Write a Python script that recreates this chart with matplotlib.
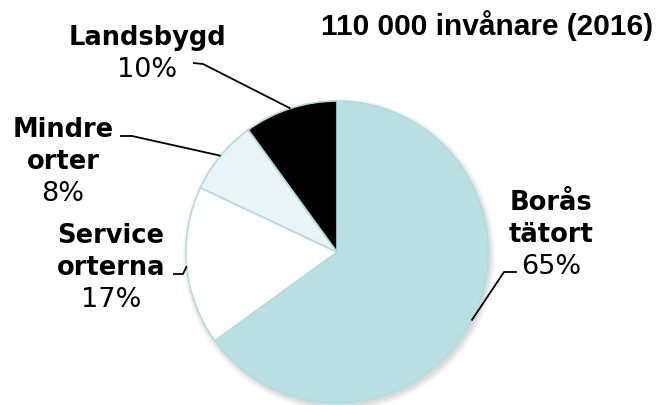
"""Pie chart: population distribution in Borås (2016)."""

import matplotlib

matplotlib.use("Agg")
import matplotlib.pyplot as plt
import numpy as np
from matplotlib import font_manager
from matplotlib.patches import Circle

# --- data -------------------------------------------------------------------
title = "110 000 invånare (2016)"
categories = ["Borås tätort", "Service orterna", "Mindre orter", "Landsbygd"]
label_lines = [["Borås", "tätort"], ["Service", "orterna"], ["Mindre", "orter"], ["Landsbygd"]]
shares = [65, 17, 8, 10]
colors = ["#badfe3", "#ffffff", "#e8f4f5", "#000000"]

# --- layout (pixel coordinates, y measured from top) ------------------------
W, H = 670, 406
center_px = (337, 253)
radius = 151
# label anchor (x centre, baseline of first line) and leader elbow points
label_pos = [(551, 210), (111, 243), (63, 137), (147, 45)]
leader_elbow = [[(517, 273), (504, 273)],
                [(173, 275), (183, 275)],
                [(120, 137), (132, 137)],
                [(193, 64), (203, 65)]]
line_step = 32


def fy(y):
    return H - y


def arial_bold():
    # pick the regular-width Liberation Sans Bold, not the Narrow cut
    for f in font_manager.fontManager.ttflist:
        if f.name == "Liberation Sans" and f.weight == 700 and f.style == "normal" \
                and "narrow" not in f.fname.lower():
            return font_manager.FontProperties(fname=f.fname)
    return font_manager.FontProperties(family="DejaVu Sans", weight="bold")


fig = plt.figure(figsize=(W / 100, H / 100), dpi=100)
ax = fig.add_axes([0, 0, 1, 1])
ax.set_xlim(0, W)
ax.set_ylim(0, H)
ax.set_aspect("equal")
ax.axis("off")

cx, cy = center_px[0], fy(center_px[1])

# soft shadow behind the pie
for i, a in enumerate([0.05, 0.05, 0.06, 0.08]):
    ax.add_patch(Circle((cx + 2, cy - 3), radius + 5 - i * 1.5,
                        facecolor="#606060", edgecolor="none", alpha=a, zorder=1))

wedges, _ = ax.pie(shares, colors=colors, startangle=90, counterclock=False,
                   center=(cx, cy), radius=radius, frame=True,
                   wedgeprops=dict(edgecolor="#b3dadd", linewidth=1.2))
for w in wedges:
    w.set_zorder(2)
ax.set_xlim(0, W)
ax.set_ylim(0, H)
ax.axis("off")

tp = arial_bold()
tp.set_size(21.5)
ax.text(487, fy(35), title, ha="center", va="baseline", fontproperties=tp,
        color="black")

total = sum(shares)
start = 90.0
for i, (name_lines, share) in enumerate(zip(label_lines, shares)):
    sweep = 360.0 * share / total
    mid = np.deg2rad(start - sweep / 2)
    start -= sweep
    ex, ey = cx + radius * np.cos(mid), cy + radius * np.sin(mid)

    lx, ly = label_pos[i]
    for k, line in enumerate(name_lines):
        ax.text(lx, fy(ly + k * line_step), line, ha="center", va="baseline",
                fontsize=18.5, fontweight="bold", family="DejaVu Sans")
    ax.text(lx, fy(ly + len(name_lines) * line_step), f"{share}%", ha="center",
            va="baseline", fontsize=19.5, family="DejaVu Sans")

    (x0, y0), (x1, y1) = leader_elbow[i]
    ax.plot([x0, x1, ex], [fy(y0), fy(y1), ey], color="black", lw=1.3,
            solid_capstyle="butt", zorder=3)

fig.savefig("out.png", dpi=100)
